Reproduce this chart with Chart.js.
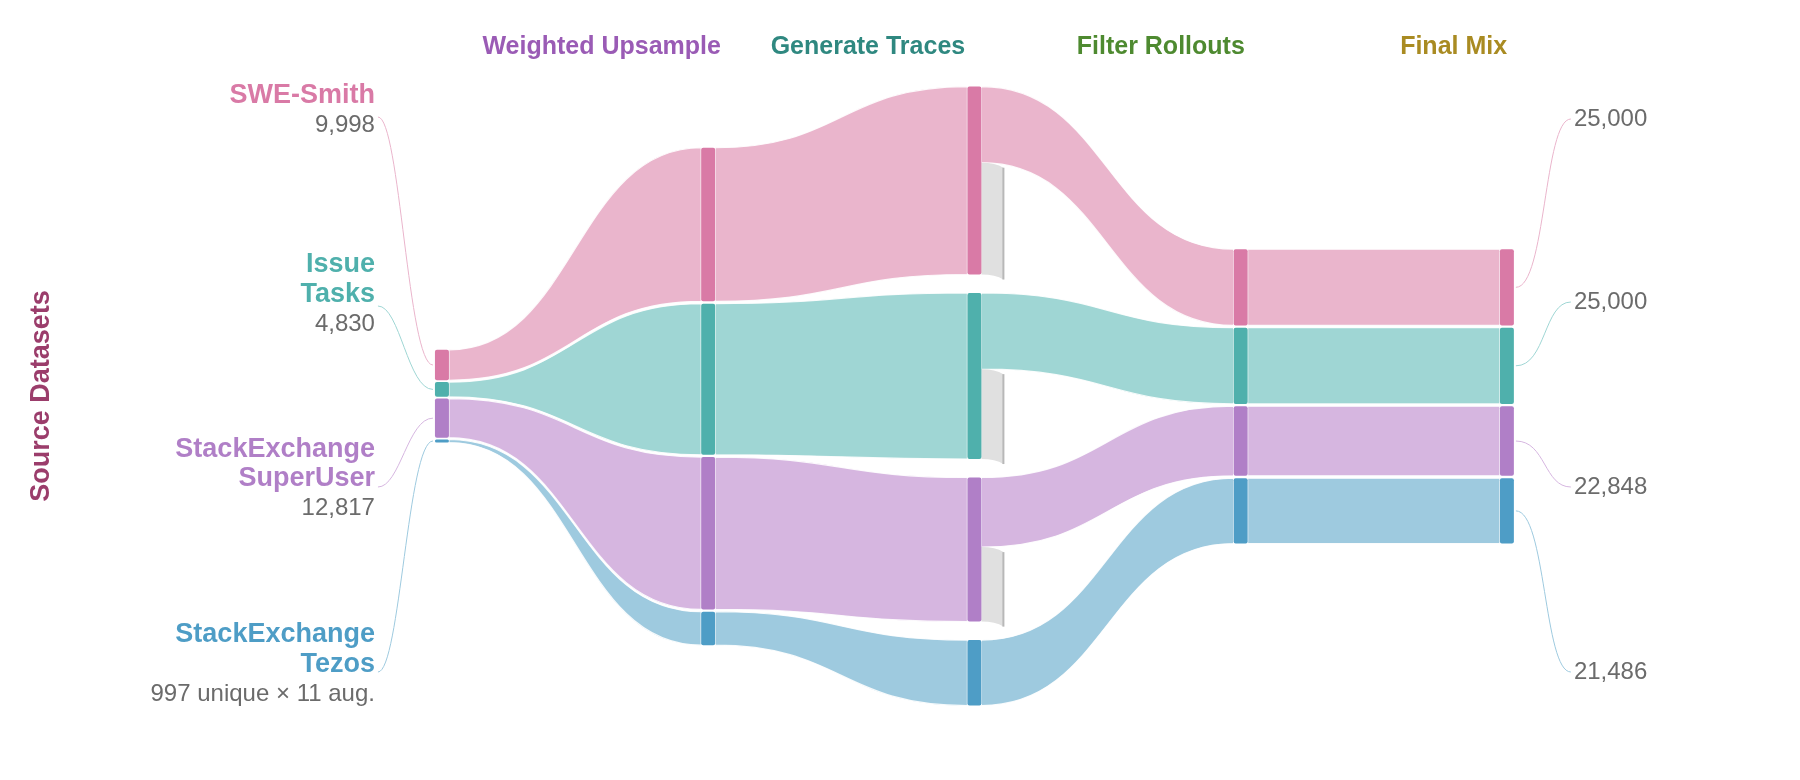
<!DOCTYPE html>
<html><head><meta charset="utf-8">
<script src="https://cdn.jsdelivr.net/npm/chart.js@4/dist/chart.umd.min.js"></script>
<style>html,body{margin:0;padding:0;background:#fff}#wrap{width:1800px;height:780px}</style>
</head><body><div id="wrap"><canvas id="c" width="1800" height="780"></canvas></div>
<script>
const stages = ['Weighted Upsample','Generate Traces','Filter Rollouts','Final Mix'];
const stageColors = ['#9a5bb5','#2f8880','#4e8a30','#a98b22'];
const sourceNames = [['SWE-Smith'],['Issue','Tasks'],['StackExchange','SuperUser'],['StackExchange','Tezos']];
const sourceLabels = ['9,998','4,830','12,817','997 unique × 11 aug.'];
const sourceCounts = [9998, 4830, 12817, 997];
const upsampled = [50400, 49600, 50000, 10967];
const generated = [61700, 54500, 47300, 21486];
const finalMix = [25000, 25000, 22848, 21486];
const finalLabels = ['25,000','25,000','22,848','21,486'];
const nodeColors = ['#d97aa6','#4fb0ac','#b07fc7','#4e9dc6'];
const linkColors = ['#eab5cc','#9fd6d4','#d6b6e0','#9ecadf'];

const colTop = [114800, 48500, 28400, 81800, 81800];
const colGap = [600, 760, 6060, 760, 760];
const columns = [sourceCounts, upsampled, generated, finalMix, finalMix];

function stack(vals, top, gap){ let y=top; return vals.map(v=>{const r=[y,y+v]; y+=v+gap; return r;}); }

const sankey = {
  id:'sankey',
  afterDraw(chart){
    const ctx=chart.ctx, xs=chart.scales.x, ys=chart.scales.y;
    const X=v=>xs.getPixelForValue(v), Y=v=>ys.getPixelForValue(v);
    const nw=14;
    const lay = columns.map((c,i)=>stack(c,colTop[i],colGap[i]));
    const ribbon=(xa,a0,a1,xb,b0,b1,fill)=>{
      const m=(xa+xb)/2;
      ctx.beginPath();
      ctx.moveTo(xa,a0); ctx.bezierCurveTo(m,a0,m,b0,xb,b0);
      ctx.lineTo(xb,b1); ctx.bezierCurveTo(m,b1,m,a1,xa,a1); ctx.closePath();
      ctx.fillStyle=fill; ctx.fill();
      ctx.strokeStyle='rgba(255,255,255,0.9)'; ctx.lineWidth=1.2; ctx.stroke();
    };
    // links
    for(let c=0;c<4;c++){
      for(let k=0;k<4;k++){
        const a=lay[c][k], b=lay[c+1][k];
        let a1=a[1];
        if(c===2) a1=a[0]+finalMix[k];
        ribbon(X(c)+nw/2,Y(a[0]),Y(a1),X(c+1)-nw/2,Y(b[0]),Y(b[1]),linkColors[k]);
      }
    }
    // filtered loss
    for(let k=0;k<4;k++){
      const a=lay[2][k]; const loss=generated[k]-finalMix[k];
      if(loss<=0) continue;
      const xl=X(2)+nw/2, y0=Y(a[0]+finalMix[k]), y1=Y(a[1]);
      ctx.beginPath(); ctx.moveTo(xl,y0); ctx.quadraticCurveTo(xl+14,y0,xl+22,y0+5);
      ctx.lineTo(xl+22,y1+5); ctx.quadraticCurveTo(xl+14,y1,xl,y1); ctx.closePath();
      ctx.fillStyle='#e0e0e0'; ctx.fill();
      ctx.beginPath(); ctx.moveTo(xl+22,y0+5); ctx.lineTo(xl+22,y1+5);
      ctx.strokeStyle='#b8b8b8'; ctx.lineWidth=2; ctx.stroke();
    }
    // nodes
    for(let c=0;c<5;c++) for(let k=0;k<4;k++){
      const a=lay[c][k];
      ctx.fillStyle=nodeColors[k];
      ctx.beginPath(); ctx.roundRect(X(c)-nw/2,Y(a[0]),nw,Math.max(2,Y(a[1])-Y(a[0])),2); ctx.fill();
    }
    // stage titles
    ctx.textBaseline='middle'; ctx.textAlign='center';
    ctx.font='bold 25px "Liberation Sans", Arial, sans-serif';
    const sx=[0.6,1.6,2.7,3.8];
    stages.forEach((s,i)=>{ctx.fillStyle=stageColors[i]; ctx.fillText(s,X(sx[i]),47);});
    // source labels
    const lx=X(0)-67;
    const labelY=[[96,125],[265,295,324],[450,479,508],[635,665,694]];
    const leadY=[117,306,487,672];
    sourceNames.forEach((nm,k)=>{
      ctx.textAlign='right';
      ctx.font='bold 27px "Liberation Sans", Arial, sans-serif'; ctx.fillStyle=nodeColors[k];
      nm.forEach((t,j)=>ctx.fillText(t,lx,labelY[k][j]));
      ctx.font='24px "Liberation Sans", Arial, sans-serif'; ctx.fillStyle='#6b6b6b';
      ctx.fillText(sourceLabels[k],lx,labelY[k][nm.length]);
      const a=lay[0][k]; const ty=(Y(a[0])+Y(a[1]))/2, tx=X(0)-nw/2-2;
      ctx.beginPath(); ctx.moveTo(lx+3,leadY[k]);
      ctx.bezierCurveTo(lx+25,leadY[k],tx-25,ty,tx,ty);
      ctx.strokeStyle=linkColors[k]; ctx.lineWidth=1; ctx.stroke();
    });
    // final labels
    const rx=X(4)+67; const ry=[119,302,487,672];
    finalLabels.forEach((t,k)=>{
      ctx.textAlign='left'; ctx.font='24px "Liberation Sans", Arial, sans-serif'; ctx.fillStyle='#6b6b6b';
      ctx.fillText(t,rx,ry[k]);
      const a=lay[4][k]; const ty=(Y(a[0])+Y(a[1]))/2, tx=X(4)+nw/2+2;
      ctx.beginPath(); ctx.moveTo(tx,ty); ctx.bezierCurveTo(tx+30,ty,rx-30,ry[k],rx-3,ry[k]);
      ctx.strokeStyle=linkColors[k]; ctx.lineWidth=1; ctx.stroke();
    });
    // side title
    ctx.save(); ctx.translate(42,396); ctx.rotate(-Math.PI/2);
    ctx.textAlign='center'; ctx.font='bold 27px "Liberation Sans", Arial, sans-serif'; ctx.fillStyle='#9b3d6b';
    ctx.fillText('Source Datasets',0,0); ctx.restore();
  }
};

new Chart(document.getElementById('c'),{
  type:'scatter',
  data:{datasets:[{data:[]}]},
  options:{responsive:false,animation:false,
    layout:{padding:0},
    plugins:{legend:{display:false},tooltip:{enabled:false}},
    scales:{x:{type:'linear',display:false,min:-1.66,max:5.101},
            y:{type:'linear',display:false,min:0,max:256000,reverse:true}}},
  plugins:[sankey]
});
</script></body></html>
